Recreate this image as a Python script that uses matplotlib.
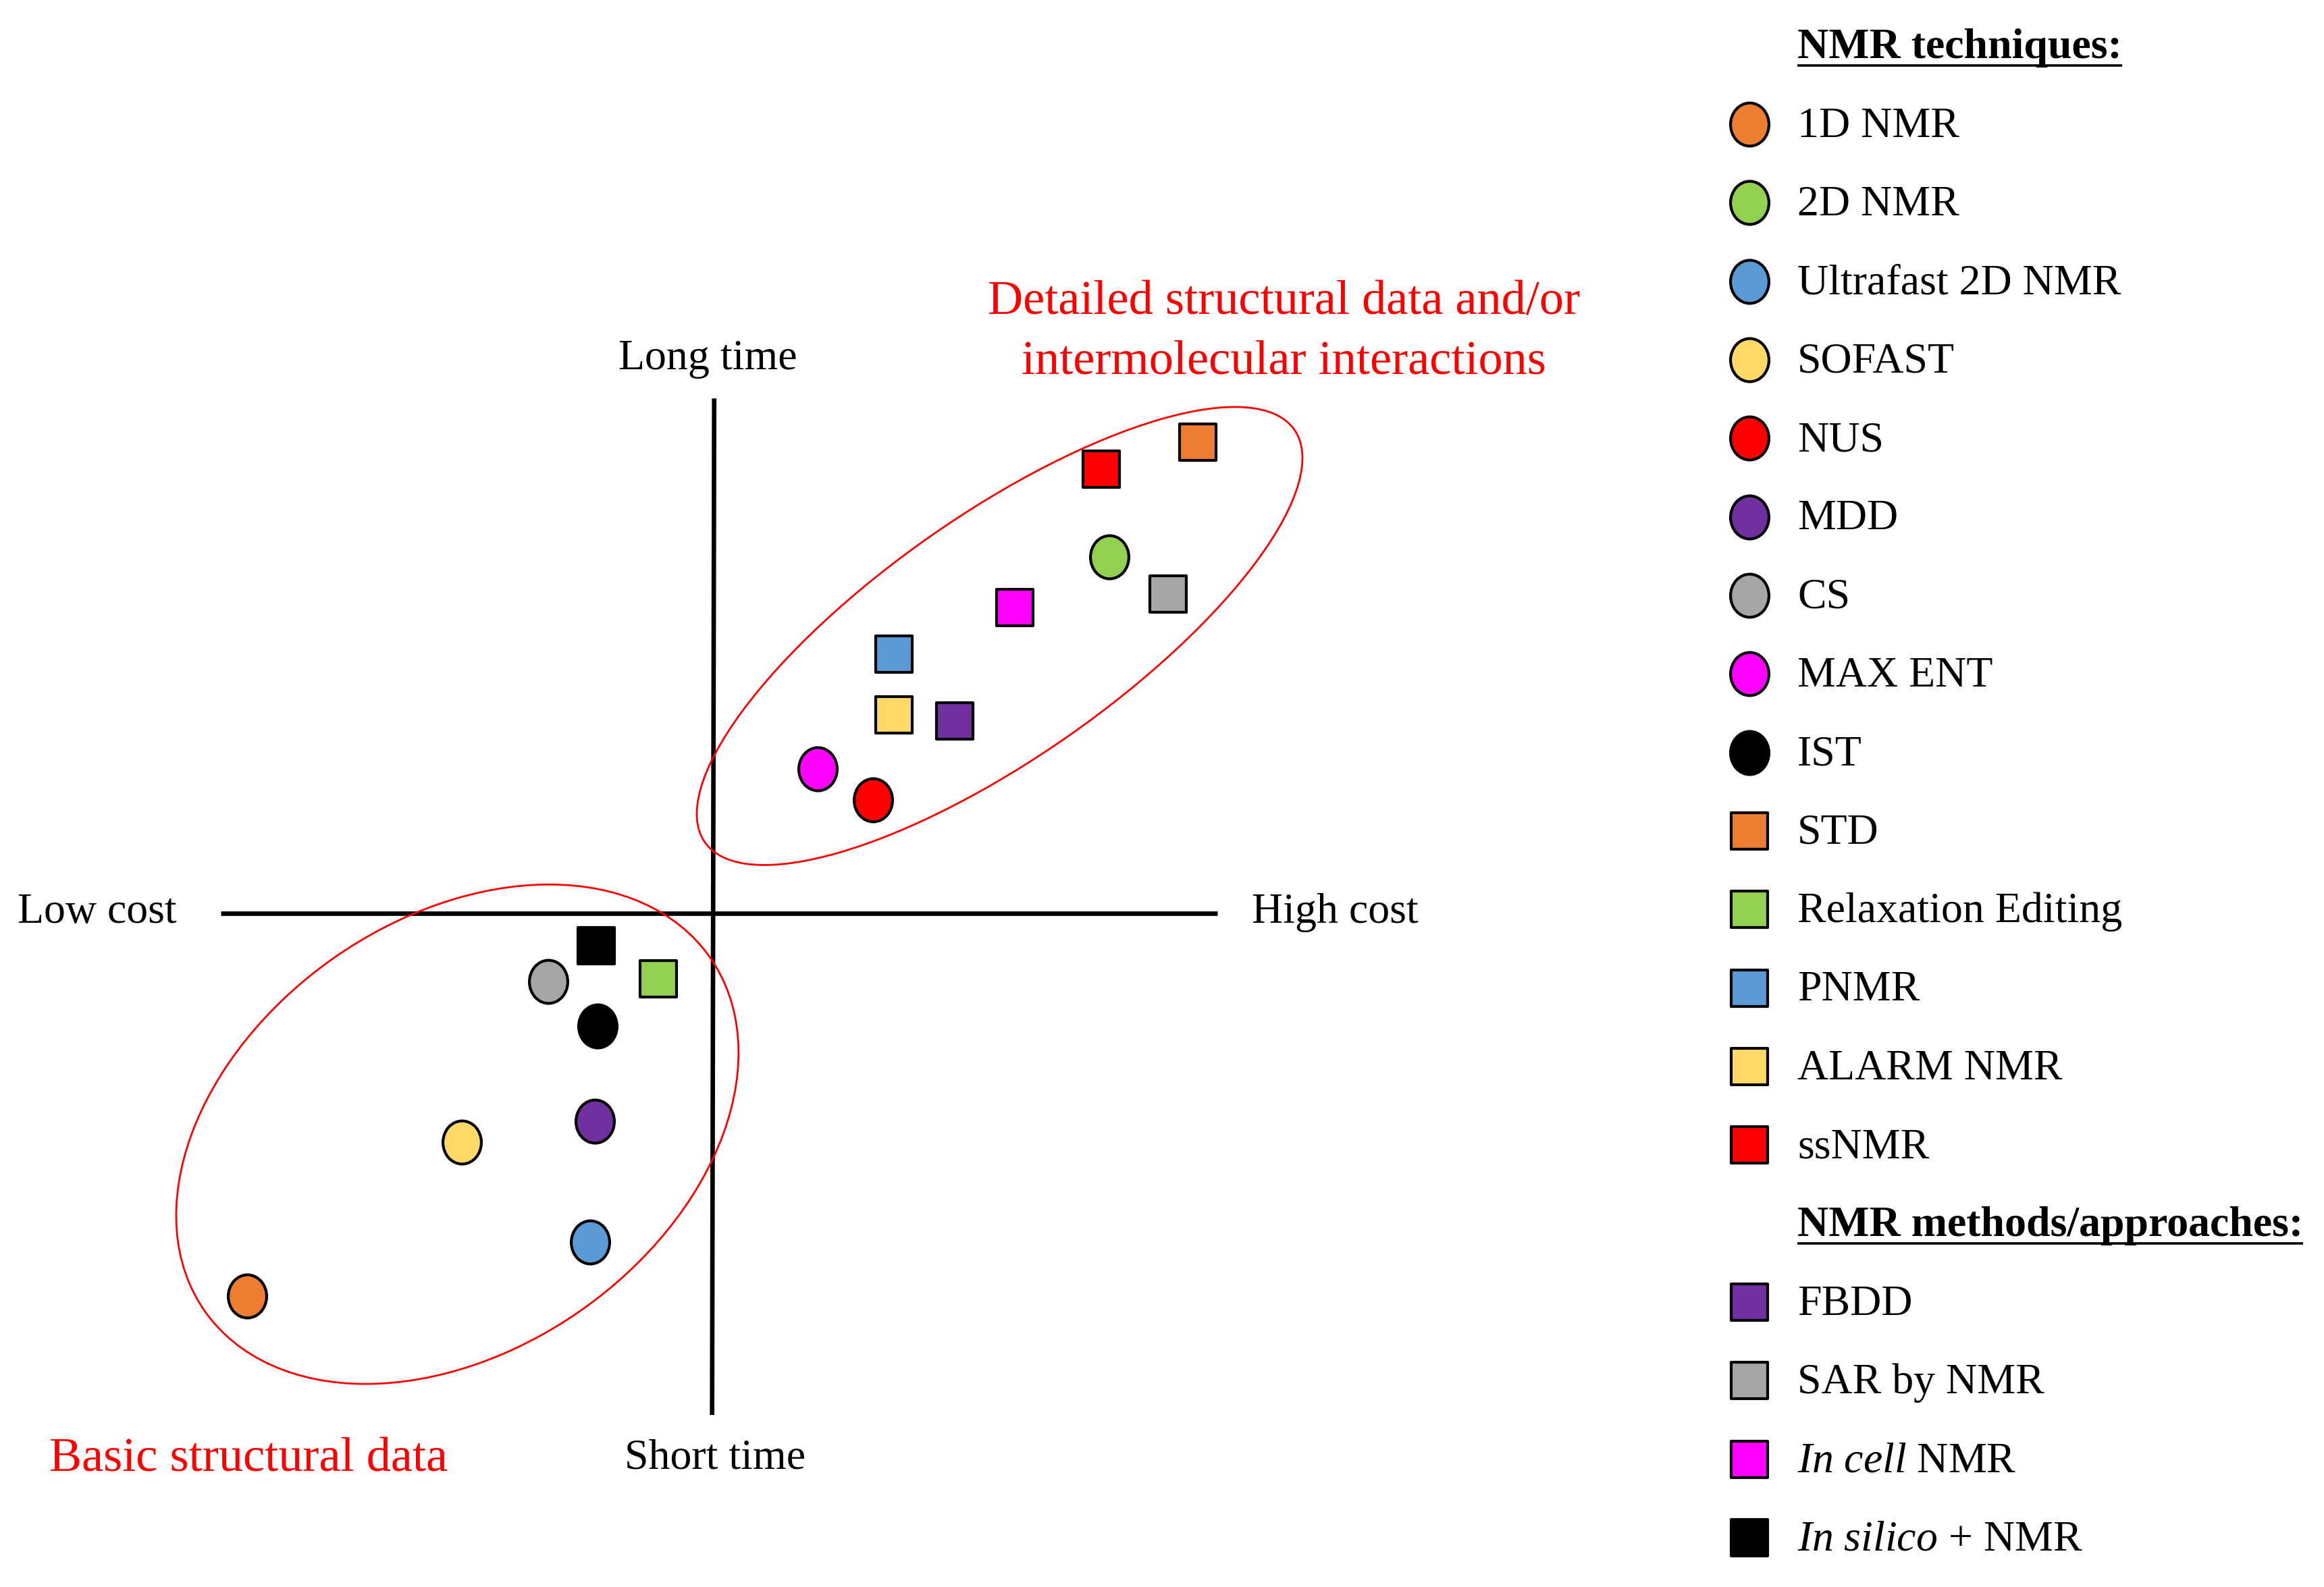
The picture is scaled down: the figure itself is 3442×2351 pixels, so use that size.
import matplotlib
matplotlib.use("Agg")
import matplotlib.pyplot as plt
import numpy as np
from matplotlib.path import Path
from matplotlib.markers import MarkerStyle
from matplotlib.patches import Ellipse
from matplotlib.transforms import Affine2D

plt.rcParams['font.family'] = ['Liberation Serif', 'DejaVu Serif']
plt.rcParams['mathtext.fontset'] = 'custom'
plt.rcParams['mathtext.rm'] = 'Liberation Serif'
plt.rcParams['mathtext.it'] = 'Liberation Serif:italic'
plt.rcParams['mathtext.bf'] = 'Liberation Serif:bold'

# ---------------- data ----------------
technique_labels = ["1D NMR", "2D NMR", "Ultrafast 2D NMR", "SOFAST", "NUS", "MDD",
                    "CS", "MAX ENT", "IST", "STD", "Relaxation Editing", "PNMR",
                    "ALARM NMR", "ssNMR"]
technique_shapes = ["circle", "circle", "circle", "circle", "circle", "circle",
                    "circle", "circle", "circle", "square", "square", "square",
                    "square", "square"]
technique_colors = ["#ED7D31", "#92D050", "#5B9BD5", "#FFD966", "#FF0000", "#7030A0",
                    "#A5A5A5", "#FF00FF", "#000000", "#ED7D31", "#92D050", "#5B9BD5",
                    "#FFD966", "#FF0000"]
technique_cost = [-3.14, 2.645, -0.84, -1.70, 1.06, -0.805, -1.12, 0.69, -0.79,
                  3.24, -0.38, 1.20, 1.20, 2.59]
technique_time = [-2.57, 2.39, -2.21, -1.54, 0.76, -1.40, -0.46, 0.97, -0.76,
                  3.16, -0.44, 1.74, 1.33, 2.98]

method_labels = ["FBDD", "SAR by NMR", r"$\mathit{In\ cell}$ NMR",
                 r"$\mathit{In\ silico}$ + NMR"]
method_shapes = ["square", "square", "square", "square"]
method_colors = ["#7030A0", "#A5A5A5", "#FF00FF", "#000000"]
method_cost = [1.61, 3.04, 2.01, -0.80]
method_time = [1.29, 2.14, 2.05, -0.22]

header_labels = ["NMR techniques:", "NMR methods/approaches:"]

# grouping ellipses: centre cost, centre time, width, height, angle
group_labels = ["Detailed structural data and/or\nintermolecular interactions",
                "Basic structural data"]
group_cx = [1.91, -1.73]
group_cy = [1.86, -1.485]
group_w = [4.83, 4.14]
group_h = [1.63, 2.89]
group_angle = [35, 35]

axis_labels = ["Long time", "Short time", "Low cost", "High cost"]

# ---------------- figure ----------------
W, H = 3442, 2351
DPI = 200
fig = plt.figure(figsize=(W / DPI, H / DPI), dpi=DPI, facecolor="white")
ax = fig.add_axes([0, 0, 1, 1])
REF_W, REF_H = 1560.0, 1065.5
OX, OY, U = 480.0, 613.0, 100.0
ax.set_xlim(-OX / U, (REF_W - OX) / U)
ax.set_ylim((OY - REF_H) / U, OY / U)
ax.axis("off")


def P(xd, yd):
    """reference-layout pixel -> data coordinates"""
    return (xd - OX) / U, (OY - yd) / U


ell = Path(Affine2D().scale(0.89, 1.0).transform(Path.unit_circle().vertices),
           Path.unit_circle().codes)
MARK = {"circle": (MarkerStyle(ell), 23.0), "square": (MarkerStyle("s"), 19.7)}
EDGE = 1.5


def draw_points(xs, ys, shapes, colors):
    for x, y, s, c in zip(xs, ys, shapes, colors):
        m, ms = MARK[s]
        ax.scatter([x], [y], marker=m, s=ms ** 2, facecolor=c, edgecolor="black",
                   linewidths=EDGE, zorder=5)


# axes cross
x0, y0 = P(479.4, 267.5)
x1, y1 = P(478.0, 950.0)
ax.plot([x0, x1], [y0, y1], color="black", lw=2.4, solid_capstyle="butt", zorder=2)
x0, _ = P(148, 613)
x1, _ = P(817, 613)
ax.plot([x0, x1], [0, 0], color="black", lw=2.4, solid_capstyle="butt", zorder=2)

# ellipses
for cx, cy, w, h, a in zip(group_cx, group_cy, group_w, group_h, group_angle):
    ax.add_patch(Ellipse((cx, cy), w, h, angle=a, fill=False, edgecolor="#FF0000",
                         lw=1.0, zorder=3))

# points
draw_points(technique_cost, technique_time, technique_shapes, technique_colors)
draw_points(method_cost, method_time, method_shapes, method_colors)

FS = 23
RFS = 26
# axis labels
ax.text(*P(475, 248), axis_labels[0], fontsize=FS, ha="center", va="baseline")
ax.text(*P(479.8, 986), axis_labels[1], fontsize=FS, ha="center", va="baseline")
ax.text(*P(11.8, 619.6), axis_labels[2], fontsize=FS, ha="left", va="baseline")
ax.text(*P(840.4, 619.6), axis_labels[3], fontsize=FS, ha="left", va="baseline")

# group labels
l1, l2 = group_labels[0].split("\n")
ax.text(*P(862, 211), l1, fontsize=RFS, color="#FF0000", ha="center", va="baseline")
ax.text(*P(862, 251), l2, fontsize=RFS, color="#FF0000", ha="center", va="baseline")
ax.text(*P(166.9, 987.6), group_labels[1], fontsize=RFS, color="#FF0000",
        ha="center", va="baseline")

# legend
MX, TX = 1174.5, 1206.5
ROW0, DY, BOFF = 83.4, 52.72, 8.5
rows = [(None, None, None, header_labels[0])]
rows += list(zip(technique_shapes, technique_colors, [None] * 14, technique_labels))
rows += [(None, None, None, header_labels[1])]
rows += list(zip(method_shapes, method_colors, [None] * 4, method_labels))

headers = []
for k, (shape, color, _, label) in enumerate(rows):
    yc = ROW0 + DY * (k - 1)
    if shape is None:
        t = ax.text(*P(TX, yc + BOFF), label, fontsize=FS, fontweight="bold",
                    ha="left", va="baseline")
        headers.append((t, yc + BOFF))
    else:
        m, ms = MARK[shape]
        mx, my = P(MX, yc)
        ax.scatter([mx], [my], marker=m, s=ms ** 2, facecolor=color,
                   edgecolor="black", linewidths=EDGE, zorder=5)
        ax.text(*P(TX, yc + BOFF), label, fontsize=FS, ha="left", va="baseline")

fig.canvas.draw()
r = fig.canvas.get_renderer()
inv = ax.transData.inverted()
for t, base in headers:
    bb = t.get_window_extent(r)
    xa = inv.transform((bb.x0, 0))[0]
    xb = inv.transform((bb.x1, 0))[0]
    _, yu = P(0, base + 4.8)
    ax.plot([xa, xb], [yu, yu], color="black", lw=1.3, solid_capstyle="butt")

fig.savefig("out.png", dpi=DPI, facecolor="white")
